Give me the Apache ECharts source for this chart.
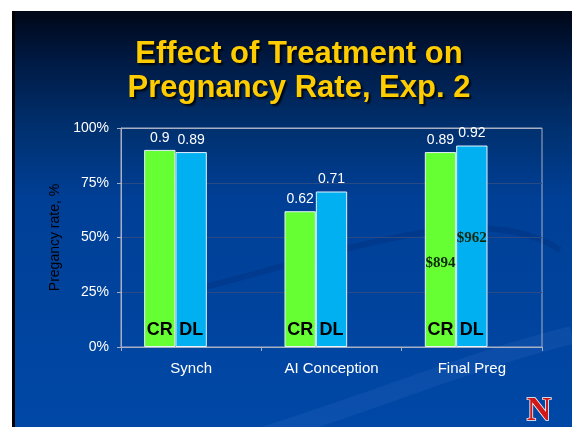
<!DOCTYPE html>
<html>
<head>
<meta charset="utf-8">
<script src="https://cdn.jsdelivr.net/npm/echarts@6/dist/echarts.min.js"></script>
<style>
html,body{margin:0;padding:0;background:#fff;}
#c{width:572px;height:427px;}
</style>
</head>
<body>
<div id="c"></div>
<script>
const categories = ['Synch', 'AI Conception', 'Final Preg'];
const crValues = [0.9, 0.62, 0.89];
const dlValues = [0.89, 0.71, 0.92];
const crCost = ['', '', '$894'];
const dlCost = ['', '', '$962'];
const seriesNames = ['CR', 'DL'];
const titleLines = ['Effect of Treatment on', 'Pregnancy Rate, Exp. 2'];
const yAxisName = 'Pregancy rate, %';

const chart = echarts.init(document.getElementById('c'), null, {renderer: 'canvas'});

const GAP = '33%';
function xAx(i, show) {
  return {
    type: 'category', data: categories, gridIndex: 0, show: show,
    axisLine: {show: show, lineStyle: {color: '#a8b0c4', width: 1}},
    axisTick: {show: show, length: 4, lineStyle: {color: '#a8b0c4'}},
    axisLabel: {show: show, color: '#ffffff', fontSize: 15, fontFamily: 'Liberation Sans, Arial', margin: 14}
  };
}
function bar(name, axis, vals, color, label, extra) {
  return Object.assign({
    name: name, type: 'bar', xAxisIndex: axis, data: vals,
    barGap: 0, barCategoryGap: GAP,
    itemStyle: {color: color, borderColor: '#e6f2ff', borderWidth: 1},
    label: label,
    emphasis: {disabled: true},
    animation: false
  }, extra || {});
}
const none = ['-', '-', '-'];
const transparent = 'rgba(0,0,0,0)';
const valLabel = {show: true, position: 'top', distance: 5, color: '#ffffff', fontSize: 14, fontFamily: 'Liberation Sans, Arial'};
function nameLabel(txt) {
  return {show: true, position: 'insideBottom', distance: 8, formatter: txt, color: '#000000', fontSize: 18, fontWeight: 'bold', fontFamily: 'Liberation Sans, Arial'};
}
function costData(vals, costs, pos) {
  return vals.map((v, i) => ({
    value: v,
    label: {show: costs[i] !== '', formatter: costs[i], position: pos, align: 'center', verticalAlign: 'middle',
      color: '#102a10', fontSize: 15, fontWeight: 'bold', fontFamily: 'Liberation Serif, Times New Roman'}
  }));
}

const option = {
  backgroundColor: '#ffffff',
  animation: false,
  graphic: [
    {type: 'rect', shape: {x: 12, y: 11, width: 560, height: 416}, z: -10, silent: true,
      style: {fill: new echarts.graphic.LinearGradient(0, 0, 0, 1, [
        {offset: 0, color: '#000717'},
        {offset: 0.12, color: '#001a44'},
        {offset: 0.28, color: '#00306e'},
        {offset: 0.45, color: '#003f96'},
        {offset: 1, color: '#0048a6'}
      ])}},
    {type: 'bezierCurve', z: -9, silent: true,
      shape: {x1: 250, y1: 440, x2: 572, y2: 335, cpx1: 380, cpy1: 400, cpx2: 470, cpy2: 360},
      style: {stroke: 'rgba(90,140,220,0.12)', lineWidth: 18, fill: null}},
    {type: 'bezierCurve', z: -9, silent: true,
      shape: {x1: 150, y1: 300, x2: 560, y2: 250, cpx1: 300, cpy1: 270, cpx2: 470, cpy2: 190},
      style: {stroke: 'rgba(0,30,90,0.18)', lineWidth: 6, fill: null}},
    {type: 'rect', shape: {x: 12, y: 11, width: 3, height: 416}, z: -8, silent: true, style: {fill: '#000000'}},
    {type: 'text', x: 539, y: 411, z: 10, silent: true,
      style: {text: 'N', align: 'center', verticalAlign: 'middle', fill: '#d01818', stroke: '#ffffff', lineWidth: 1.5,
        font: 'bold 34px "Liberation Serif", "DejaVu Serif", serif', shadowColor: 'rgba(0,0,0,0.6)', shadowOffsetX: 2, shadowOffsetY: 2, shadowBlur: 2}}
  ],
  title: {
    text: titleLines.join('\n'), left: 294, top: 32, textAlign: 'center',
    textStyle: {color: '#ffcc00', fontSize: 31, fontWeight: 'bold', fontFamily: 'Liberation Sans, Arial', lineHeight: 34,
      textShadowColor: 'rgba(0,0,0,0.85)', textShadowOffsetX: 2, textShadowOffsetY: 2, textShadowBlur: 2}
  },
  grid: {left: 121, right: 30, top: 128, bottom: 80, show: true, borderColor: '#a8b0c4', borderWidth: 1, backgroundColor: 'transparent'},
  xAxis: [xAx(0, true), xAx(1, false), xAx(2, false)],
  yAxis: {
    type: 'value', min: 0, max: 1, interval: 0.25,
    name: yAxisName, nameLocation: 'middle', nameGap: 56, nameRotate: 90,
    nameTextStyle: {color: '#000000', fontSize: 14, fontFamily: 'Liberation Sans, Arial'},
    axisLine: {show: true, lineStyle: {color: '#a8b0c4'}},
    axisTick: {show: true, length: 4, lineStyle: {color: '#a8b0c4'}},
    axisLabel: {color: '#ffffff', fontSize: 14, fontFamily: 'Liberation Sans, Arial', margin: 12, formatter: v => Math.round(v * 100) + '%'},
    splitLine: {show: true, lineStyle: {color: ['#a8b0c4', '#2a4a84', '#2a4a84', '#2a4a84', '#a8b0c4'], width: 1}}
  },
  series: [
    bar(seriesNames[0], 0, crValues, '#66ff33', valLabel),
    bar(seriesNames[1], 0, dlValues, '#00b0f0', valLabel),
    bar('pad', 0, none, transparent, {show: false}),
    bar('crName', 1, crValues, transparent, nameLabel(seriesNames[0]), {itemStyle: {color: transparent}}),
    bar('dlName', 1, dlValues, transparent, nameLabel(seriesNames[1]), {itemStyle: {color: transparent}}),
    bar('pad1', 1, none, transparent, {show: false}),
    bar('crCost', 2, costData(crValues, crCost, ['50%', '57%']), transparent, {show: false}, {itemStyle: {color: transparent}}),
    bar('dlCost', 2, costData(dlValues, dlCost, ['50%', '46%']), transparent, {show: false}, {itemStyle: {color: transparent}}),
    bar('pad2', 2, none, transparent, {show: false})
  ]
};
chart.setOption(option);
</script>
</body>
</html>
